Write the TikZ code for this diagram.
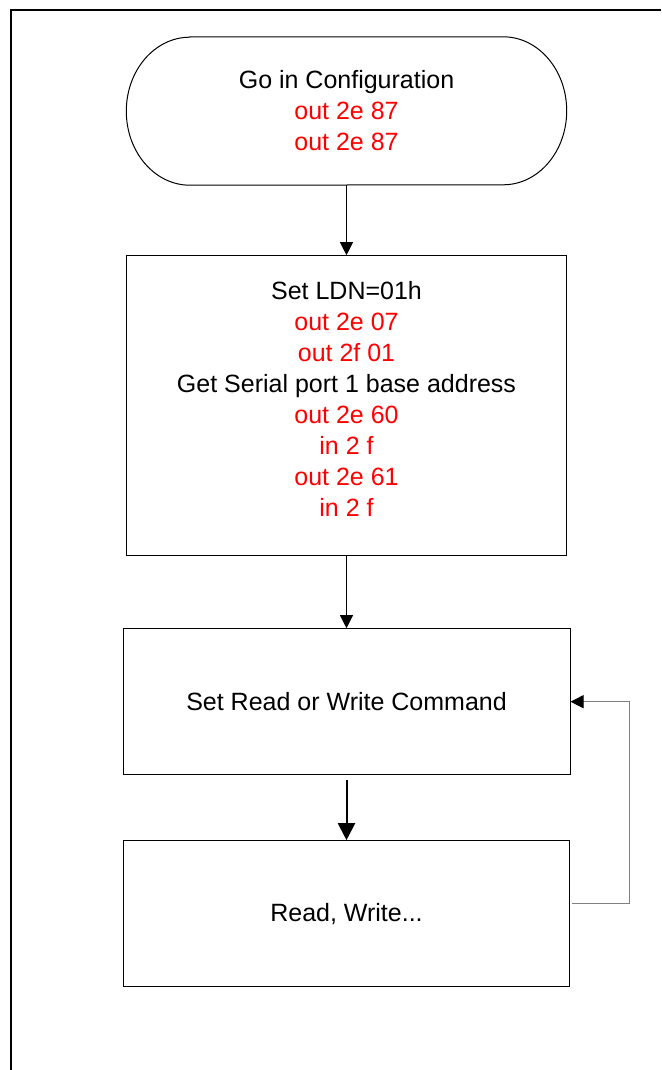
\documentclass[tikz,border=0pt]{standalone}
\usepackage{fontspec}
\setmainfont{Liberation Sans}
\usepackage{xcolor}
\usetikzlibrary{positioning, arrows.meta}

\begin{document}
\begin{tikzpicture}[
      x=1pt, y=-1pt,
      node distance=70pt,
      every node/.style={font=\fontsize{25}{31}\selectfont, align=center},
      terminal/.style={rectangle, minimum width=440pt, minimum height=148pt, inner sep=0pt},
      process/.style={rectangle, draw, line width=1pt, minimum width=440pt, inner sep=0pt},
      flow/.style={line width=1pt, -{Triangle[length=13pt, width=13pt]}},
      feedback/.style={draw=gray, line width=1pt, -{Triangle[length=13pt, width=13pt, black]}}
    ]

    \useasboundingbox (0,0) rectangle (661,1070);

    % Page frame
    \draw[line width=2pt] (661,10) -- (11,10) -- (11,1070);

    % Start node
    \node[terminal] (start) at (346.5,111) {Go in Configuration\\ \textcolor{red}{out 2e 87}\\ \textcolor{red}{out 2e 87}};
    \draw[line width=1pt] ([xshift=63.5pt]start.north west) -- ([xshift=-63.5pt]start.north east)
      arc[start angle=90, end angle=-90, x radius=63.5pt, y radius=74pt]
      -- ([xshift=63.5pt]start.south west)
      arc[start angle=270, end angle=90, x radius=63.5pt, y radius=74pt] -- cycle;

    % Process nodes
    \node[process, minimum height=300pt, text depth=13pt, below=of start] (ldn) {Set LDN=01h\\
      \textcolor{red}{out 2e 07}\\ \textcolor{red}{out 2f 01}\\
      Get Serial port 1 base address\\
      \textcolor{red}{out 2e 60}\\ \textcolor{red}{in 2 f}\\
      \textcolor{red}{out 2e 61}\\ \textcolor{red}{in 2 f}};
    \node[process, minimum width=447pt, minimum height=146pt, below=72pt of ldn] (cmd) {Set Read or Write Command};
    \node[process, minimum width=446pt, minimum height=146pt, below=65pt of cmd] (rw) {Read, Write...};

    % Arrows between stages
    \draw[flow] (start) -- (ldn);
    \draw[flow] (ldn) -- (cmd);
    \draw[line width=2pt, shorten <=5pt, -{Triangle[length=17pt, width=17pt]}] (cmd) -- (rw);

    % Loop back to command
    \coordinate (loop) at (629,903);
    \draw[feedback, shorten <=2pt] (rw.east |- loop) -- (loop) |- (cmd.east);

  \end{tikzpicture}
\end{document}
